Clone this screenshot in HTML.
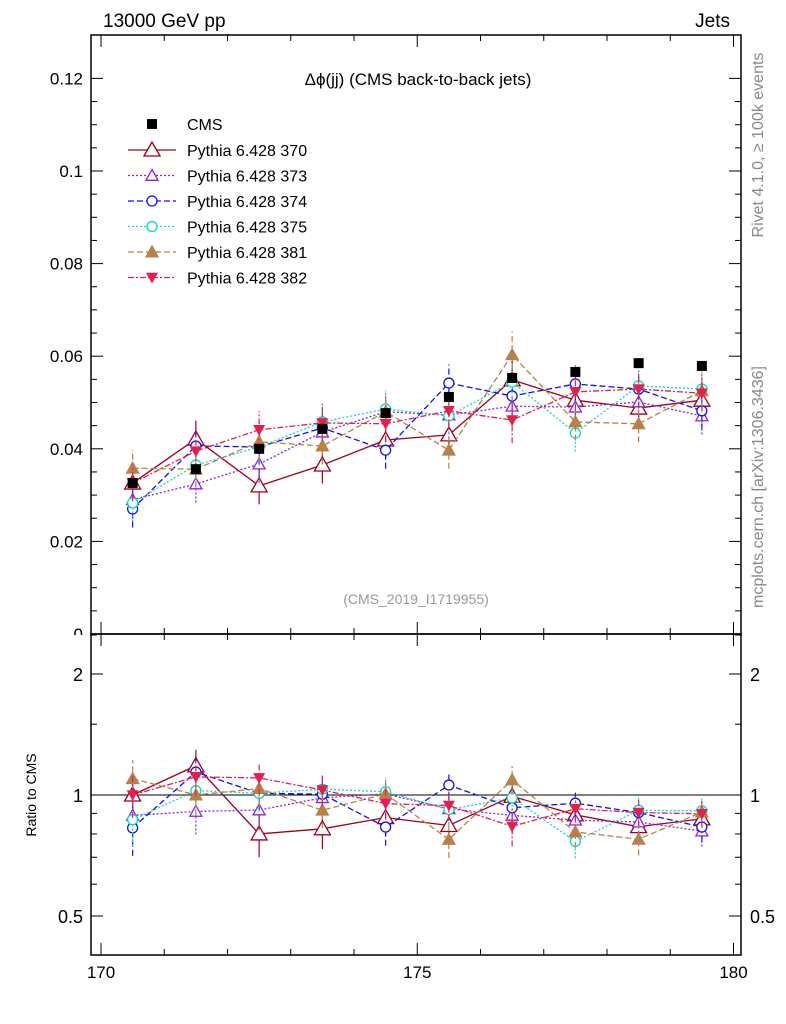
<!DOCTYPE html>
<html><head><meta charset="utf-8"><style>
body{margin:0;background:#fff}
svg{display:block;font-family:"Liberation Sans",sans-serif}
</style></head><body>
<svg id="c" width="786" height="1024"></svg>
<script>
const categories=[170.5,171.5,172.5,173.5,174.5,175.5,176.5,177.5,178.5,179.5];
const cmsValues=[0.0326,0.0356,0.0400,0.0443,0.0477,0.0512,0.0553,0.0566,0.0585,0.0579];
const s370=[0.0326,0.0421,0.0320,0.0365,0.0419,0.0430,0.0549,0.0505,0.0488,0.0505];
const s373=[0.0290,0.0324,0.0367,0.0436,0.0480,0.0473,0.0492,0.0490,0.0501,0.0471];
const s374=[0.0270,0.0406,0.0404,0.0445,0.0397,0.0542,0.0514,0.0540,0.0529,0.0482];
const s375=[0.0283,0.0365,0.0404,0.0458,0.0486,0.0471,0.0544,0.0434,0.0536,0.0529];
const s381=[0.0358,0.0356,0.0415,0.0406,0.0480,0.0397,0.0603,0.0458,0.0454,0.0525];
const s382=[0.0326,0.0395,0.0441,0.0456,0.0454,0.0482,0.0462,0.0523,0.0529,0.0520];
const mcErr=[0.004,0.004,0.004,0.004,0.004,0.004,0.005,0.004,0.004,0.004];
const yTicks=[0,0.02,0.04,0.06,0.08,0.1,0.12];
const yTickLabels=["0","0.02","0.04","0.06","0.08","0.1","0.12"];
const rTicks=[0.5,1,2];
const rTickLabels=["0.5","1","2"];
const xTicks=[170,175,180];
const xTickLabels=["170","175","180"];

const L=91,R=741,T=35,B=634,RB=955;
const X=v=>101+(v-170)*63.25;
const Y=v=>634-v*4630;
const RY=v=>795-Math.log2(v)*121;
const svg=document.getElementById('c');
const NS="http://www.w3.org/2000/svg";
function mk(tag,attrs,parent){const e=document.createElementNS(NS,tag);for(const k in attrs)e.setAttribute(k,attrs[k]);(parent||svg).appendChild(e);return e;}
function txt(s,attrs,name){const e=mk('text',attrs);e.textContent=s;return e;}

yTicks.forEach((v,i)=>{const y=Y(v);
 mk('line',{x1:L,x2:L+12,y1:y,y2:y,stroke:'#000'});mk('line',{x1:R,x2:R-12,y1:y,y2:y,stroke:'#000'});
 txt(yTickLabels[i],{x:L-8,y:y+6,'text-anchor':'end','font-size':17},'y-tick-label');
 if(i<yTicks.length-1)for(let k=1;k<4;k++){const yy=Y(v+k*0.005);mk('line',{x1:L,x2:L+6,y1:yy,y2:yy,stroke:'#000'});mk('line',{x1:R,x2:R-6,y1:yy,y2:yy,stroke:'#000'});}
});
// white out below main frame to clip the "0" label like reference
mk('rect',{x:40,y:B+1,width:50,height:12,fill:'#fff'});

let f=mk('rect',{x:L,y:T,width:R-L,height:B-T,fill:'none',stroke:'#000','stroke-width':1.5});

f=mk('rect',{x:L,y:B,width:R-L,height:RB-B,fill:'none',stroke:'#000','stroke-width':1.5});


for(let v=170;v<=180.5;v+=1){const x=X(v);const big=v%5===0;const len=big?12:6;
 mk('line',{x1:x,x2:x,y1:B,y2:B-len,stroke:'#000'});mk('line',{x1:x,x2:x,y1:RB,y2:RB-len,stroke:'#000'});mk('line',{x1:x,x2:x,y1:T,y2:T+len,stroke:'#000'});mk('line',{x1:x,x2:x,y1:B,y2:B+len,stroke:'#000'});}
xTicks.forEach((v,i)=>txt(xTickLabels[i],{x:X(v),y:978,'text-anchor':'middle','font-size':17},'x-tick-label'));
rTicks.forEach((v,i)=>{const y=RY(v);
 mk('line',{x1:L,x2:L+12,y1:y,y2:y,stroke:'#000'});mk('line',{x1:R,x2:R-12,y1:y,y2:y,stroke:'#000'});
 txt(rTickLabels[i],{x:L-8,y:y+7,'text-anchor':'end','font-size':18},'ratio-tick-label');
 txt(rTickLabels[i],{x:R+9,y:y+7,'text-anchor':'start','font-size':18},'ratio-tick-label-right');
});
[0.6,0.7,0.8,0.9,1.5,2.5].forEach(v=>{const y=RY(v);if(y>B&&y<RB){mk('line',{x1:L,x2:L+6,y1:y,y2:y,stroke:'#000'});mk('line',{x1:R,x2:R-6,y1:y,y2:y,stroke:'#000'});}});
mk('line',{x1:L,x2:R,y1:RY(1),y2:RY(1),stroke:'#000'});

txt('13000 GeV pp',{x:103,y:27,'font-size':19},'collision-label');
txt('Jets',{x:730,y:27,'text-anchor':'end','font-size':19},'process-label');
txt('Δϕ(jj) (CMS back-to-back jets)',{x:418,y:85,'text-anchor':'middle','font-size':17},'plot-title');
txt('(CMS_2019_I1719955)',{x:416,y:604,'text-anchor':'middle','font-size':14,fill:'#999'},'analysis-id');
txt('Rivet 4.1.0, ≥ 100k events',{x:763,y:145,'text-anchor':'middle','font-size':16,fill:'#888',transform:'rotate(-90 763 145)'},'rivet-label');
txt('mcplots.cern.ch [arXiv:1306.3436]',{x:763,y:487,'text-anchor':'middle','font-size':16,fill:'#888',transform:'rotate(-90 763 487)'},'mcplots-label');
txt('Ratio to CMS',{x:36,y:795,'text-anchor':'middle','font-size':14,transform:'rotate(-90 36 795)'},'ratio-axis-title');

function marker(type,x,y,col,parent){
 const s=6;let e;
 if(type==='sq')e=mk('rect',{x:x-5,y:y-5,width:10,height:10,fill:'#000'},parent);
 else if(type==='tri'||type==='triF')e=mk('polygon',{points:`${x},${y-s} ${x-s},${y+s*0.8} ${x+s},${y+s*0.8}`,fill:type==='triF'?col:'#fff',stroke:col,'stroke-width':1.3},parent);
 else if(type==='triBig')e=mk('polygon',{points:`${x},${y-8} ${x-8},${y+6} ${x+8},${y+6}`,fill:'#fff',stroke:col,'stroke-width':1.3},parent);
 else if(type==='triD')e=mk('polygon',{points:`${x},${y+s} ${x-s},${y-s*0.8} ${x+s},${y-s*0.8}`,fill:col},parent);
 else e=mk('circle',{cx:x,cy:y,r:5,fill:'#fff',stroke:col,'stroke-width':1.3},parent);
 return e;
}
const series=[
 {n:'Pythia 6.428 370',d:s370,c:'#a0001c',dash:'',m:'triBig'},
 {n:'Pythia 6.428 373',d:s373,c:'#9020e0',dash:'2,2',m:'tri'},
 {n:'Pythia 6.428 374',d:s374,c:'#1010f0',dash:'6,3',m:'circ'},
 {n:'Pythia 6.428 375',d:s375,c:'#10d8c0',dash:'2,2',m:'circ'},
 {n:'Pythia 6.428 381',d:s381,c:'#b8804a',dash:'6,3',m:'triF'},
 {n:'Pythia 6.428 382',d:s382,c:'#e02050',dash:'6,2,2,2',m:'triD'}
];
series.forEach((s,si)=>{
 const g=mk('g',{});
 const pts=s.d.map((v,i)=>`${X(categories[i])},${Y(v)}`).join(' ');
 mk('polyline',{points:pts,fill:'none',stroke:s.c,'stroke-width':1.3,'stroke-dasharray':s.dash},g);
 const rp=s.d.map((v,i)=>`${X(categories[i])},${RY(v/cmsValues[i])}`).join(' ');
 mk('polyline',{points:rp,fill:'none',stroke:s.c,'stroke-width':1.3,'stroke-dasharray':s.dash},g);
 s.d.forEach((v,i)=>{const x=X(categories[i]);
  mk('line',{x1:x,x2:x,y1:Y(v-mcErr[i]),y2:Y(v+mcErr[i]),stroke:s.c,'stroke-width':1.2,'stroke-dasharray':s.dash},g);
  mk('line',{x1:x,x2:x,y1:RY((v-mcErr[i])/cmsValues[i]),y2:RY((v+mcErr[i])/cmsValues[i]),stroke:s.c,'stroke-width':1.2,'stroke-dasharray':s.dash},g);
  const p=marker(s.m,x,Y(v),s.c,g);
  const q=marker(s.m,x,RY(v/cmsValues[i]),s.c,g);
 });
 const ly=150+si*25.5;
 const lg=mk('g',{});
 mk('line',{x1:128,x2:176,y1:ly,y2:ly,stroke:s.c,'stroke-width':1.3,'stroke-dasharray':s.dash},lg);
 marker(s.m,152,ly,s.c,lg);
 const t=mk('text',{x:187,y:ly+6,'font-size':16},lg);t.textContent=s.n;
});
const cg=mk('g',{});
cmsValues.forEach((v,i)=>{const p=marker('sq',X(categories[i]),Y(v),'#000',cg);});
const lc=mk('g',{});
marker('sq',152,124,'#000',lc);
const tc=mk('text',{x:187,y:130,'font-size':16},lc);tc.textContent='CMS';
</script>
</body></html>
